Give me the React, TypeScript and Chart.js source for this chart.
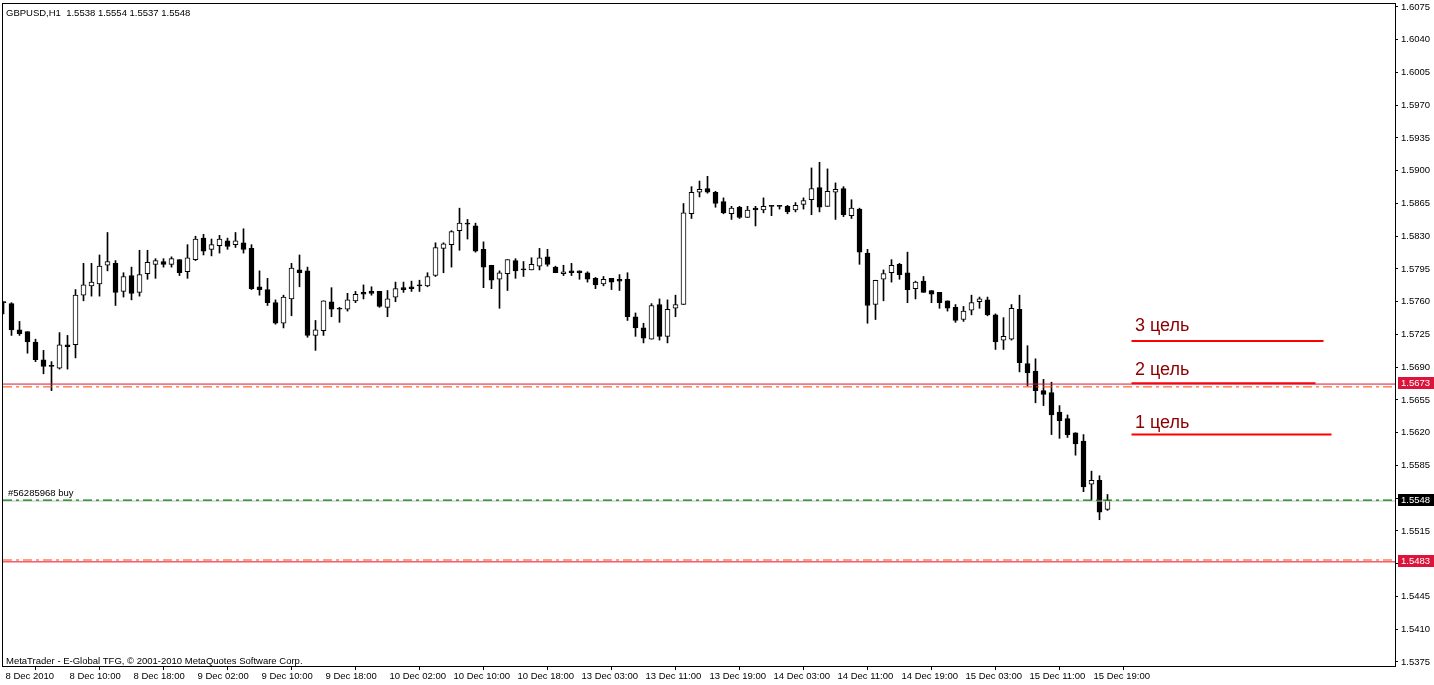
import React, { useEffect, useRef } from 'react';
import { Chart, registerables } from 'chart.js';

Chart.register(...registerables);

const symbolTitle = 'GBPUSD,H1  1.5538 1.5554 1.5537 1.5548';
const copyrightText = 'MetaTrader - E-Global TFG, \u00a9 2001-2010 MetaQuotes Software Corp.';
const orderLabel = '#56285968 buy';

const opens = [
  1.5759, 1.5758, 1.5730, 1.5728, 1.5717, 1.5698, 1.5691, 1.5689, 1.5714, 1.5714,
  1.5767, 1.5777, 1.5779, 1.5799, 1.5801, 1.5771, 1.5788, 1.5770, 1.5790, 1.5800,
  1.5803, 1.5800, 1.5805, 1.5792, 1.5805, 1.5828, 1.5816, 1.5820, 1.5825, 1.5821,
  1.5823, 1.5817, 1.5776, 1.5773, 1.5759, 1.5737, 1.5763, 1.5794, 1.5793, 1.5724,
  1.5729, 1.5760, 1.5752, 1.5752, 1.5761, 1.5770, 1.5771, 1.5771, 1.5754, 1.5765,
  1.5775, 1.5776, 1.5777, 1.5777, 1.5788, 1.5817, 1.5821, 1.5836, 1.5843, 1.5841,
  1.5816, 1.5799, 1.5784, 1.5790, 1.5804, 1.5794, 1.5794, 1.5798, 1.5808, 1.5797,
  1.5790, 1.5793, 1.5793, 1.5791, 1.5785, 1.5779, 1.5785, 1.5784, 1.5784, 1.5744,
  1.5732, 1.5720, 1.5757, 1.5723, 1.5753, 1.5757, 1.5854, 1.5877, 1.5881, 1.5877,
  1.5867, 1.5854, 1.5861, 1.5850, 1.5860, 1.5858, 1.5862, 1.5862, 1.5862, 1.5858,
  1.5864, 1.5869, 1.5882, 1.5862, 1.5877, 1.5881, 1.5852, 1.5859, 1.5812, 1.5757,
  1.5784, 1.5791, 1.5800, 1.5791, 1.5774, 1.5782, 1.5772, 1.5770, 1.5761, 1.5754,
  1.5741, 1.5751, 1.5760, 1.5762, 1.5746, 1.5719, 1.5720, 1.5752, 1.5694, 1.5686,
  1.5665, 1.5663, 1.5642, 1.5635, 1.5620, 1.5611, 1.5565, 1.5569, 1.5538,
];
const highs = [
  1.5760, 1.5759, 1.5739, 1.5728, 1.5720, 1.5708, 1.5696, 1.5727, 1.5724, 1.5773,
  1.5801, 1.5801, 1.5810, 1.5834, 1.5804, 1.5791, 1.5797, 1.5815, 1.5815, 1.5806,
  1.5806, 1.5808, 1.5805, 1.5821, 1.5830, 1.5832, 1.5827, 1.5831, 1.5828, 1.5834,
  1.5838, 1.5821, 1.5793, 1.5785, 1.5762, 1.5767, 1.5801, 1.5810, 1.5797, 1.5740,
  1.5761, 1.5775, 1.5754, 1.5769, 1.5771, 1.5778, 1.5776, 1.5771, 1.5772, 1.5781,
  1.5781, 1.5782, 1.5783, 1.5791, 1.5823, 1.5823, 1.5836, 1.5860, 1.5848, 1.5844,
  1.5824, 1.5799, 1.5793, 1.5805, 1.5806, 1.5803, 1.5807, 1.5817, 1.5816, 1.5798,
  1.5799, 1.5801, 1.5793, 1.5792, 1.5786, 1.5787, 1.5785, 1.5789, 1.5791, 1.5748,
  1.5737, 1.5758, 1.5763, 1.5762, 1.5767, 1.5865, 1.5883, 1.5889, 1.5894, 1.5878,
  1.5871, 1.5862, 1.5862, 1.5862, 1.5862, 1.5871, 1.5863, 1.5863, 1.5863, 1.5866,
  1.5871, 1.5903, 1.5909, 1.5902, 1.5887, 1.5883, 1.5869, 1.5860, 1.5816, 1.5783,
  1.5794, 1.5805, 1.5801, 1.5813, 1.5782, 1.5787, 1.5772, 1.5770, 1.5761, 1.5757,
  1.5755, 1.5767, 1.5765, 1.5765, 1.5747, 1.5743, 1.5757, 1.5767, 1.5713, 1.5699,
  1.5677, 1.5674, 1.5649, 1.5639, 1.5620, 1.5618, 1.5579, 1.5574, 1.5554,
];
const lows = [
  1.5747, 1.5724, 1.5724, 1.5705, 1.5696, 1.5683, 1.5665, 1.5688, 1.5688, 1.5700,
  1.5761, 1.5766, 1.5766, 1.5793, 1.5756, 1.5765, 1.5762, 1.5766, 1.5784, 1.5785,
  1.5797, 1.5797, 1.5788, 1.5785, 1.5804, 1.5810, 1.5809, 1.5812, 1.5816, 1.5818,
  1.5812, 1.5773, 1.5767, 1.5756, 1.5736, 1.5732, 1.5745, 1.5776, 1.5722, 1.5708,
  1.5724, 1.5744, 1.5738, 1.5750, 1.5759, 1.5763, 1.5767, 1.5754, 1.5744, 1.5760,
  1.5770, 1.5771, 1.5771, 1.5776, 1.5787, 1.5791, 1.5797, 1.5815, 1.5827, 1.5813,
  1.5775, 1.5774, 1.5753, 1.5772, 1.5785, 1.5787, 1.5794, 1.5794, 1.5798, 1.5791,
  1.5788, 1.5788, 1.5784, 1.5781, 1.5774, 1.5777, 1.5773, 1.5772, 1.5740, 1.5723,
  1.5716, 1.5720, 1.5719, 1.5716, 1.5744, 1.5757, 1.5849, 1.5872, 1.5876, 1.5861,
  1.5854, 1.5848, 1.5849, 1.5850, 1.5841, 1.5855, 1.5852, 1.5859, 1.5854, 1.5856,
  1.5859, 1.5853, 1.5856, 1.5862, 1.5848, 1.5851, 1.5849, 1.5800, 1.5737, 1.5741,
  1.5761, 1.5781, 1.5784, 1.5759, 1.5763, 1.5770, 1.5759, 1.5753, 1.5750, 1.5738,
  1.5739, 1.5746, 1.5753, 1.5745, 1.5709, 1.5709, 1.5719, 1.5685, 1.5670, 1.5652,
  1.5649, 1.5618, 1.5614, 1.5615, 1.5596, 1.5557, 1.5548, 1.5527, 1.5537,
];
const closes = [
  1.5759, 1.5730, 1.5726, 1.5717, 1.5698, 1.5691, 1.5691, 1.5714, 1.5712, 1.5767,
  1.5778, 1.5781, 1.5798, 1.5803, 1.5770, 1.5787, 1.5769, 1.5789, 1.5802, 1.5804,
  1.5800, 1.5806, 1.5791, 1.5807, 1.5827, 1.5814, 1.5821, 1.5827, 1.5819, 1.5825,
  1.5816, 1.5774, 1.5773, 1.5759, 1.5737, 1.5765, 1.5796, 1.5791, 1.5724, 1.5730,
  1.5761, 1.5752, 1.5752, 1.5762, 1.5768, 1.5768, 1.5769, 1.5755, 1.5763, 1.5774,
  1.5773, 1.5774, 1.5777, 1.5787, 1.5818, 1.5822, 1.5835, 1.5844, 1.5843, 1.5814,
  1.5797, 1.5783, 1.5791, 1.5805, 1.5793, 1.5794, 1.5800, 1.5807, 1.5800, 1.5791,
  1.5792, 1.5791, 1.5791, 1.5784, 1.5778, 1.5784, 1.5781, 1.5782, 1.5744, 1.5732,
  1.5721, 1.5756, 1.5723, 1.5752, 1.5757, 1.5855, 1.5877, 1.5880, 1.5877, 1.5865,
  1.5855, 1.5860, 1.5850, 1.5858, 1.5858, 1.5862, 1.5862, 1.5862, 1.5856, 1.5863,
  1.5868, 1.5881, 1.5861, 1.5878, 1.5880, 1.5853, 1.5860, 1.5813, 1.5756, 1.5783,
  1.5790, 1.5799, 1.5789, 1.5773, 1.5781, 1.5770, 1.5768, 1.5759, 1.5753, 1.5740,
  1.5750, 1.5759, 1.5763, 1.5746, 1.5717, 1.5723, 1.5753, 1.5695, 1.5684, 1.5665,
  1.5661, 1.5639, 1.5633, 1.5618, 1.5608, 1.5562, 1.5569, 1.5535, 1.5548,
];

const timeTickIndex = [0, 8, 16, 24, 32, 40, 48, 56, 64, 72, 80, 88, 96, 104, 112, 120, 128, 136];
const timeTickLabels = [
  '8 Dec 2010', '8 Dec 10:00', '8 Dec 18:00', '9 Dec 02:00', '9 Dec 10:00', '9 Dec 18:00',
  '10 Dec 02:00', '10 Dec 10:00', '10 Dec 18:00', '13 Dec 03:00', '13 Dec 11:00', '13 Dec 19:00',
  '14 Dec 03:00', '14 Dec 11:00', '14 Dec 19:00', '15 Dec 03:00', '15 Dec 11:00', '15 Dec 19:00',
];

const priceTicks = [
  1.6075, 1.6040, 1.6005, 1.5970, 1.5935, 1.5900, 1.5865, 1.5830, 1.5795, 1.5760, 1.5725,
  1.5690, 1.5655, 1.5620, 1.5585, 1.5550, 1.5515, 1.5480, 1.5445, 1.5410, 1.5375,
];

const targetNames = ['3 цель', '2 цель', '1 цель'];
const targetPrices = [1.5718, 1.5673, 1.5618];
const targetLabelPrices = [1.5729, 1.5682, 1.5625];
const targetStartBar = [141, 141, 141];
const targetEndBar = [165, 164, 166];

// horizontal levels: solid take-profit line, its dash-dot order level, order open, bid, stop dash-dot, stop line
const levelPrices = [1.5672, 1.5669, 1.5548, 1.5547, 1.5484, 1.5482];
const boxPrices = [1.5673, 1.5548, 1.5483];

const X_MIN = -0.0625;
const X_MAX = 173.9375;
const Y_MAX = 1.60782;
const Y_MIN = 1.53707;

const FONT = '"Liberation Sans", Arial, sans-serif';

const levelStyles = [
  { color: '#DC143C', dash: [] as number[], width: 1 },
  { color: '#FF4500', dash: [9, 4, 3, 4], width: 1 },
  { color: '#008000', dash: [9, 4, 3, 4], width: 1.2 },
  { color: '#C0C0C0', dash: [] as number[], width: 1 },
  { color: '#FF4500', dash: [9, 4, 3, 4], width: 1 },
  { color: '#E8102A', dash: [] as number[], width: 1 },
];
const boxColors = ['#DC143C', '#000000', '#DC143C'];

const overlayPlugin = {
  id: 'mtOverlay',
  afterDraw(chart: any) {
    const { ctx, chartArea } = chart;
    const xs = chart.scales.x;
    const ys = chart.scales.y;
    ctx.save();
    // frame
    ctx.strokeStyle = '#000';
    ctx.lineWidth = 1;
    ctx.setLineDash([]);
    ctx.strokeRect(
      chartArea.left - 0.5,
      chartArea.top - 0.5,
      chartArea.right - chartArea.left + 1,
      chartArea.bottom - chartArea.top + 1
    );
    // texts
    ctx.fillStyle = '#000';
    ctx.font = `9.5px ${FONT}`;
    ctx.textBaseline = 'alphabetic';
    ctx.textAlign = 'left';
    ctx.fillText(symbolTitle, chartArea.left + 3, chartArea.top + 11.5);
    ctx.fillText(copyrightText, chartArea.left + 3, chartArea.bottom - 2);
    ctx.fillText(orderLabel, chartArea.left + 5, ys.getPixelForValue(levelPrices[2]) - 4);
    // target labels
    ctx.fillStyle = '#8B0000';
    ctx.font = `18px ${FONT}`;
    targetNames.forEach((name, i) => {
      ctx.fillText(name, xs.getPixelForValue(targetStartBar[i]) + 3.5, ys.getPixelForValue(targetLabelPrices[i]));
    });
    // price boxes
    ctx.font = `9.5px ${FONT}`;
    ctx.textBaseline = 'middle';
    boxPrices.forEach((p, i) => {
      const yc = Math.round(ys.getPixelForValue(p));
      ctx.fillStyle = boxColors[i];
      ctx.fillRect(chartArea.right + 3, yc - 6, chart.width - chartArea.right - 3, 12);
      ctx.fillStyle = '#fff';
      ctx.fillText(p.toFixed(4), chartArea.right + 6, yc + 0.5);
    });
    ctx.restore();
  },
};

export default function App() {
  const ref = useRef<HTMLCanvasElement>(null);
  useEffect(() => {
    document.body.style.margin = '0';
    const canvas = ref.current;
    if (!canvas) return;

    const bodyData = opens.map((o, i) => ({ x: i, y: [o, closes[i]] }));
    const wickData = lows.map((l, i) => ({ x: i, y: [l, highs[i]] }));

    const levelSets = levelPrices.map((p, i) => ({
      type: 'line' as const,
      data: [{ x: X_MIN, y: p }, { x: X_MAX, y: p }],
      borderColor: levelStyles[i].color,
      borderWidth: levelStyles[i].width,
      borderDash: levelStyles[i].dash,
      pointRadius: 0,
      fill: false,
      order: 0,
    }));
    const targetSets = targetPrices.map((p, i) => ({
      type: 'line' as const,
      data: [{ x: targetStartBar[i], y: p }, { x: targetEndBar[i], y: p }],
      borderColor: '#FF0000',
      borderWidth: 2,
      pointRadius: 0,
      fill: false,
      order: 0,
    }));

    const chart = new Chart(canvas, {
      type: 'bar',
      data: {
        datasets: [
          {
            type: 'bar',
            data: bodyData as any,
            barThickness: 5,
            grouped: false,
            backgroundColor: (c: any) => (closes[c.dataIndex] > opens[c.dataIndex] ? '#FFFFFF' : '#000000'),
            borderColor: '#000000',
            borderWidth: 1,
            borderSkipped: false,
            minBarLength: 1,
            order: 1,
          } as any,
          {
            type: 'bar',
            data: wickData as any,
            barThickness: 1,
            grouped: false,
            backgroundColor: '#000000',
            borderWidth: 0,
            order: 2,
          } as any,
          ...(levelSets as any[]),
          ...(targetSets as any[]),
        ],
      },
      options: {
        responsive: false,
        animation: false,
        events: [],
        devicePixelRatio: 1,
        layout: { padding: { left: 3, top: 4, right: 0, bottom: 0 } },
        plugins: { legend: { display: false }, tooltip: { enabled: false }, title: { display: false } },
        scales: {
          x: {
            type: 'linear',
            min: X_MIN,
            max: X_MAX,
            offset: false,
            grid: { drawOnChartArea: false, drawTicks: true, tickLength: 4, color: '#000', lineWidth: 1 },
            border: { display: false },
            ticks: {
              autoSkip: false,
              maxRotation: 0,
              minRotation: 0,
              align: 'start',
              labelOffset: 2,
              padding: 1,
              color: '#000',
              font: { family: FONT, size: 9.5 },
              callback: (_v: any, i: number) => timeTickLabels[i],
            },
            afterBuildTicks: (s: any) => {
              s.ticks = timeTickIndex.map((v) => ({ value: v }));
            },
            afterFit: (s: any) => {
              s.height = 19;
              s.paddingLeft = 0;
              s.paddingRight = 0;
            },
          } as any,
          y: {
            type: 'linear',
            position: 'right',
            min: Y_MIN,
            max: Y_MAX,
            beginAtZero: false,
            grid: { drawOnChartArea: false, drawTicks: true, tickLength: 3, color: '#000', lineWidth: 1 },
            border: { display: false },
            ticks: {
              color: '#000',
              padding: 3,
              font: { family: FONT, size: 9.5 },
              callback: (v: any) => Number(v).toFixed(4),
            },
            afterBuildTicks: (s: any) => {
              s.ticks = priceTicks.map((v) => ({ value: v }));
            },
            afterFit: (s: any) => {
              s.width = 39;
              s.paddingTop = 0;
              s.paddingBottom = 0;
            },
          } as any,
        },
      },
      plugins: [overlayPlugin],
    });
    return () => chart.destroy();
  }, []);

  return (
    <div style={{ position: 'absolute', left: 0, top: 0, width: 1434, height: 685, background: '#fff' }}>
      <canvas ref={ref} width={1434} height={685} style={{ display: 'block', width: 1434, height: 685 }} />
    </div>
  );
}
